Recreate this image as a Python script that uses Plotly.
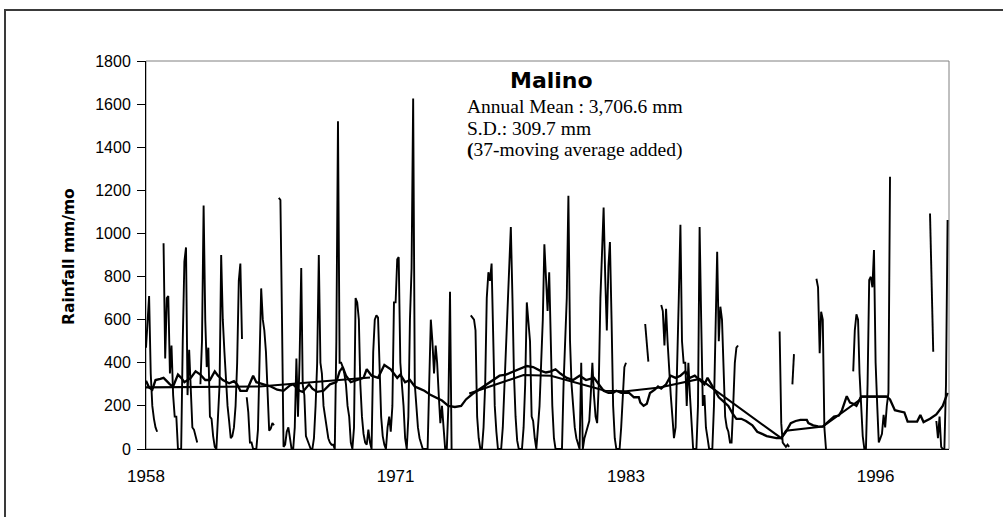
import plotly.graph_objects as go
import pandas as pd

N = None
# Monthly rainfall at Malino (mm/month), one row per year (Jan..Dec), starting Jan 1958
rain = [
    470, 620, 710, 350, 200, 140, 100, 80, N, N, N, 955,        # 1958
    420, 700, 710, 350, 480, 250, 150, 150, 0, 0, 0, 500,       # 1959
    870, 935, 250, 460, 250, 100, 90, 60, 30, N, 300, 500,      # 1960
    1130, 600, 380, 470, 150, 140, 60, 10, 0, 150, 300, 900,    # 1961
    600, 450, 300, 200, 130, 50, 60, 100, 200, 400, 780, 860,   # 1962
    510, N, N, 240, 170, 30, 30, 0, 0, 0, 90, 400,              # 1963
    745, 600, 550, 450, 300, 85, 95, 120, 110, N, N, 1165,      # 1964
    1155, 580, 10, 20, 80, 100, 60, 0, 0, 100, 420, 150,        # 1965
    420, 840, 300, 250, 60, 40, 20, 0, 0, 50, 200, 400,         # 1966
    900, 400, 350, 200, 150, 90, 50, 30, 20, 20, 0, 500,        # 1967
    1520, 400, 400, 380, 350, 300, 200, 150, 30, 0, 100, 700,   # 1968
    680, 600, 300, 150, 70, 30, 20, 90, 30, 0, 450, 600,        # 1969
    620, 610, 400, 150, 60, 20, 0, 100, 150, 80, 200, 680,      # 1970
    680, 880, 890, 400, 300, 200, 50, 0, 150, 600, 840, 1626,   # 1971
    300, 200, 100, 50, 20, 0, 0, 0, 0, 300, 600, 500,           # 1972
    350, 480, 400, 250, 120, 200, 90, 0, 0, 200, 730, 0,        # 1973
    N, N, N, N, N, N, N, N, N, N, N, 620,                       # 1974
    610, 600, 550, 150, 50, 0, 0, 100, 300, 700, 820, 780,      # 1975
    860, 500, 200, 80, 0, 0, 0, 100, 300, 500, 700, 850,        # 1976
    1030, 700, 350, 150, 40, 0, 0, 0, 100, 300, 680, 600,       # 1977
    500, 150, 130, 50, 0, 100, 200, 400, 600, 950, 800, 640,    # 1978
    820, 400, 200, 50, 0, 0, 0, 0, 0, 300, 500, 700,            # 1979
    1175, 500, 300, 200, 100, 50, 20, 0, 400, 0, 50, 80,        # 1980
    100, 130, 250, 400, 250, 150, 120, 300, 700, 900, 1120, 800,  # 1981
    550, 850, 960, 600, 200, 50, 0, 0, 0, 100, 250, 380,        # 1982
    400, N, N, N, N, N, N, N, N, N, N, N,                       # 1983
    580, 470, 405, N, N, N, N, N, N, N, 668, 640,               # 1984
    480, 650, 500, 350, 250, 150, 50, 100, 480, 700, 1040, 500, # 1985
    400, 400, 200, 400, 250, 100, 0, 0, 0, 200, 1030, 600,      # 1986
    200, 250, 100, 50, 0, 0, 0, 200, 500, 915, 500, 660,        # 1987
    600, 300, 150, 100, 80, 30, 30, 200, 400, 470, 480, N,      # 1988
    N, N, N, N, N, N, N, N, N, N, N, N,                         # 1989
    N, N, N, N, N, N, N, N, N, N, N, N,                         # 1990
    545, 120, 30, 20, 10, 20, 10, N, 300, 440, N, N,            # 1991
    N, N, N, N, N, N, N, N, N, N, N, 790,                       # 1992
    750, 444, 637, 600, 100, 0, N, N, N, N, N, N,               # 1993
    N, N, N, N, N, N, N, N, N, N, 360, 550,                     # 1994
    625, 600, 350, 200, 60, 0, 0, 300, 784, 799, 750, 923,      # 1995
    400, 200, 30, 50, 70, 158, 100, 200, 260, 1263, N, N,       # 1996
    N, N, N, N, N, N, N, N, N, N, N, N,                         # 1997
    N, N, N, N, N, N, N, N, N, N, 1093, 770,                    # 1998
    451, N, 130, 50, 150, 10, 0, 0, 300, 1062,                  # 1999
]

# 37-month moving average (month index from Jan 1958, value)
ma_month = [0, 2, 4, 6, 9, 11, 13, 15, 17, 20, 22, 24, 28, 31, 34, 37, 40, 43, 45, 48,
            52, 55, 57, 59, 63, 67, 69, 73, 78, 82, 86, 90, 92, 96, 98, 102, 104, 107, 111, 115,
            119, 121, 123, 125, 128, 132, 136, 138, 141, 145, 149, 153, 157, 159, 162, 165, 168, 171, 174, 178,
            182, 185, 189, 193, 197, 200, 204, 207, 211, 215, 219, 221, 225, 230, 234, 238, 242, 246, 250, 253,
            256, 259, 263, 267, 271, 275, 280, 283, 286, 289, 292, 294, 297, 302, 305, 308, 309, 311, 313, 315,
            318, 320, 322, 325, 328, 331, 334, 337, 340, 343, 346, 349, 351, 355, 358, 361, 364, 367, 369, 372,
            375, 379, 382, 385, 388, 391, 394, 397, 400, 403, 406, 409, 413, 414, 417, 420, 423, 427, 430, 433,
            435, 438, 440, 442, 444, 447, 463, 465, 468, 471, 474, 476, 482, 484, 486, 490, 494, 498, 501]
ma_value = [317, 285, 275, 320, 325, 330, 315, 300, 290, 345, 330, 310, 330, 360, 345, 320, 320, 360, 340, 320,
            305, 315, 300, 270, 270, 340, 310, 300, 290, 275, 270, 295, 300, 270, 265, 300, 280, 265, 270, 300,
            310, 360, 380, 340, 310, 320, 330, 370, 340, 330, 390, 370, 330, 345, 310, 320, 290, 280, 270, 250,
            235, 225, 200, 195, 200, 230, 255, 270, 290, 310, 330, 340, 345, 360, 370, 385, 380, 365, 355, 360,
            370, 350, 330, 320, 340, 320, 330, 300, 270, 260, 260, 270, 260, 260, 240, 240, 215, 200, 210, 260,
            275, 290, 280, 300, 340, 330, 340, 360, 330, 340, 320, 300, 330, 280, 240, 220, 200, 160, 140, 140,
            130, 110, 80, 70, 60, 55, 50, 50, 80, 120, 130, 135, 135, 120, 110, 105, 104, 130, 150, 155,
            180, 245, 215, 210, 200, 243, 243, 230, 180, 175, 170, 127, 127, 158, 125, 140, 160, 200, 260]

# Long-term smoothed line (month index, value); None marks a break
trend_month = [0, 71, 140, None, 202, 236, 253, 287, 300, 321, 346, 397, 400, 423, 446, 447, 463]
trend_value = [286, 290, 332, None, 258, 343, 340, 270, 268, 285, 325, 50, 85, 104, 227, 243, 243]

tick_years = ["1958", "1971", "1983", "1996"]
y_ticks = [0, 200, 400, 600, 800, 1000, 1200, 1400, 1600, 1800]

title_text = "Malino"
info_lines = ["Annual Mean : 3,706.6 mm", "S.D.: 309.7 mm", "<b>(</b>37-moving average added)"]
y_title = "Rainfall mm/mo"

months = pd.date_range("1958-01-01", periods=len(rain), freq="MS")
ma_x = [months[m] for m in ma_month]
trend_x = [months[m] if m is not None else None for m in trend_month]
tick_vals = [pd.Timestamp(f"{y}-01-01") for y in tick_years]

W, H = 1003, 517
L, R, T, B = 146, 54, 61, 68
PW, PH = W - L - R, H - T - B


def px(x):
    return (x - L) / PW


def py(y):
    return (H - B - y) / PH


fig = go.Figure()
fig.add_trace(go.Scatter(x=months, y=rain, mode="lines", connectgaps=False,
                         line=dict(color="black", width=1.9), hoverinfo="skip"))
fig.add_trace(go.Scatter(x=ma_x, y=ma_value, mode="lines",
                         line=dict(color="black", width=2.3), hoverinfo="skip"))
fig.add_trace(go.Scatter(x=trend_x, y=trend_value, mode="lines", connectgaps=False,
                         line=dict(color="black", width=2.1), hoverinfo="skip"))

fig.update_layout(
    width=W, height=H,
    margin=dict(l=L, r=R, t=T, b=B, pad=0),
    paper_bgcolor="white", plot_bgcolor="white",
    showlegend=False,
    font=dict(family="Liberation Sans, Arial, sans-serif", color="black"),
    xaxis=dict(
        type="date",
        range=[months[0], pd.Timestamp("1999-10-28")],
        tickvals=tick_vals, ticktext=tick_years,
        ticks="", showgrid=False, zeroline=False,
        showline=True, linecolor="black", linewidth=1,
        tickfont=dict(size=17, family="Liberation Sans, Arial"),
        ticklabelstandoff=12,
    ),
    yaxis=dict(
        range=[0, 1800],
        tickvals=y_ticks,
        ticks="outside", ticklen=8, tickcolor="black", tickwidth=1,
        showgrid=False, zeroline=False,
        showline=True, linecolor="black", linewidth=1,
        tickfont=dict(size=16, family="Liberation Sans, Arial"),
        ticklabelstandoff=3,
    ),
    shapes=[
        dict(type="rect", xref="paper", yref="paper", x0=0, y0=0, x1=1, y1=1,
             line=dict(color="#808080", width=1), layer="below"),
        dict(type="rect", xref="paper", yref="paper",
             x0=px(5), y0=py(530), x1=px(1015), y1=py(10),
             line=dict(color="#3a3a3a", width=2), layer="below"),
    ],
    annotations=[
        dict(text=f"<b>{title_text}</b>", xref="paper", yref="paper",
             x=px(551.5), y=py(80.5), xanchor="center", yanchor="middle", showarrow=False,
             font=dict(family="DejaVu Sans", size=22, color="black")),
        dict(text=info_lines[0], xref="paper", yref="paper", x=px(465), y=py(106.5),
             xanchor="left", yanchor="middle", showarrow=False,
             font=dict(family="Liberation Serif, Times New Roman", size=19.5, color="black")),
        dict(text=info_lines[1], xref="paper", yref="paper", x=px(465), y=py(128),
             xanchor="left", yanchor="middle", showarrow=False,
             font=dict(family="Liberation Serif, Times New Roman", size=19.5, color="black")),
        dict(text=info_lines[2], xref="paper", yref="paper", x=px(465), y=py(149.5),
             xanchor="left", yanchor="middle", showarrow=False,
             font=dict(family="Liberation Serif, Times New Roman", size=19.5, color="black")),
        dict(text=f"<b>{y_title}</b>", xref="paper", yref="paper", x=px(69), y=py(257),
             xanchor="center", yanchor="middle", textangle=-90, showarrow=False,
             font=dict(family="DejaVu Sans", size=15.5, color="black")),
    ],
)

fig.write_html("out.html", config={"displayModeBar": False},
               post_script="document.body.style.margin='0';document.body.style.overflow='hidden';")
